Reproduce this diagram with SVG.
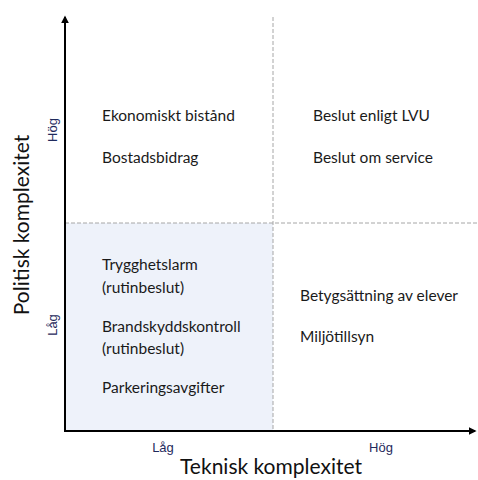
<svg xmlns="http://www.w3.org/2000/svg" width="478" height="480" viewBox="0 0 478 480">
<style>
.item{font-family:Lato,"Liberation Sans",sans-serif;font-size:15.5px;fill:#1a1a1a}
.tick{font-family:"Liberation Sans",Arial,sans-serif;font-size:13px;fill:#1f2a5c}
.title{font-family:Lato,"Liberation Sans",sans-serif;font-size:21px;fill:#111}
.dash{stroke:#a6a6a6;stroke-width:1;stroke-dasharray:4,2;fill:none}
.axis{stroke:#000;stroke-width:2;fill:none}
</style>
<defs>
<marker id="arr" viewBox="0 0 10 10" refX="8" refY="5" markerWidth="4" markerHeight="4" orient="auto">
<path d="M0,0 L10,5 L0,10 z" fill="#000"/>
</marker>
</defs>
<rect width="478" height="480" fill="#fff"/>
<g id="quadrant-low-low">
<rect x="65" y="223" width="208" height="208" fill="#eef2fa"/>
</g>
<g id="connectors">
<line class="dash" x1="273" y1="17" x2="273" y2="431"/>
<line class="dash" x1="65" y1="223" x2="478" y2="223"/>
<line class="axis" x1="65" y1="431" x2="65" y2="17" marker-end="url(#arr)"/>
<line class="axis" x1="64" y1="431" x2="475" y2="431" marker-end="url(#arr)"/>
</g>
<g id="q-high-pol-low-tech">
<text class="item" x="102" y="121">Ekonomiskt bistånd</text>
<text class="item" x="102" y="163">Bostadsbidrag</text>
</g>
<g id="q-high-pol-high-tech">
<text class="item" x="313" y="121">Beslut enligt LVU</text>
<text class="item" x="313" y="163">Beslut om service</text>
</g>
<g id="q-low-pol-low-tech">
<text class="item" x="102" y="270">Trygghetslarm</text>
<text class="item" x="102" y="293">(rutinbeslut)</text>
<text class="item" x="102" y="332">Brandskyddskontroll</text>
<text class="item" x="102" y="354">(rutinbeslut)</text>
<text class="item" x="102" y="393">Parkeringsavgifter</text>
</g>
<g id="q-low-pol-high-tech">
<text class="item" x="300" y="301">Betygsättning av elever</text>
<text class="item" x="300" y="342">Miljötillsyn</text>
</g>
<g id="x-axis-labels">
<text class="tick" x="163" y="452" text-anchor="middle">Låg</text>
<text class="tick" x="381" y="452" text-anchor="middle">Hög</text>
<text class="title" x="271" y="474" text-anchor="middle">Teknisk komplexitet</text>
</g>
<g id="y-axis-labels">
<text class="tick" transform="translate(57,130) rotate(-90)" text-anchor="middle">Hög</text>
<text class="tick" transform="translate(57,325) rotate(-90)" text-anchor="middle">Låg</text>
<text class="title" transform="translate(29,225) rotate(-90)" text-anchor="middle">Politisk komplexitet</text>
</g>
</svg>
